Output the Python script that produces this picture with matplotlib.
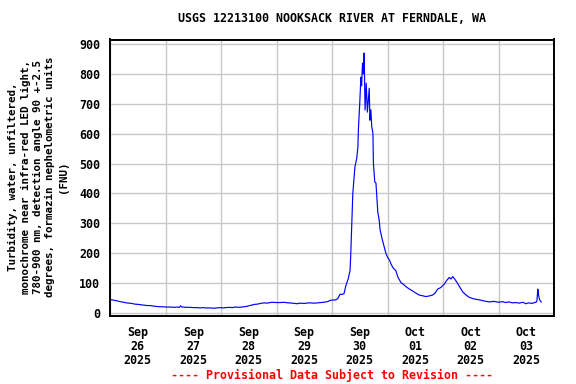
import numpy as np
import matplotlib
matplotlib.use("Agg")
import matplotlib.pyplot as plt
import matplotlib.dates as mdates

# hours since 2025-09-26 00:00 and turbidity (FNU)
hours = [0, 1, 2, 3, 4.2, 5, 6, 7, 8.5, 9.5, 10.5, 12, 12.9, 14, 15, 16, 17.2, 18, 19, 20,
         21.5, 23, 24, 26, 27.6, 29, 30, 30.5, 31, 31.8, 33, 35, 36, 37.6, 39, 40, 41.5,
         43.2, 45, 46, 47.5, 49, 50, 51.9, 53, 54, 56, 57.8, 59, 60.5, 61.5, 62.7, 64, 65,
         66.6, 68, 70, 72, 73.8, 75, 77, 79, 80.9, 82, 84, 86, 88.2, 90, 91, 92.6, 94, 95.5,
         97.6, 98.5, 99.5, 100.3, 101.2, 102.0, 103.0, 103.8, 104.1, 104.6, 105.0, 105.9,
         106.7, 107.2, 107.4, 108.0, 108.5, 108.8, 109.2, 109.4, 109.6, 109.9, 110.3, 110.8,
         111.3, 111.8, 112.1, 112.4, 112.8, 113.2, 113.7, 113.9, 114.5, 115.0, 115.8, 116.4,
         116.8, 117.6, 118.6, 119.3, 120.0, 121.0, 121.5, 122.5, 123.6, 124.5, 125.8, 127,
         128.0, 129.5, 130.8, 132, 133.7, 135, 136.6, 138, 139.5, 140.5, 141.7, 143, 144.6,
         145.5, 146.7, 147.5, 148.2, 149.2, 150.3, 151.5, 152.5, 154, 155.4, 157.5, 159.7,
         162, 164.0, 166, 168, 169.8, 171, 172.5, 174, 175.6, 177, 178.5, 179.9, 181, 182.5,
         183.5, 184.2, 184.6, 185.0, 185.3, 185.7, 186.1, 186.5]
turbidity = [45, 44, 42, 41, 38, 37, 36, 34, 33, 32, 30, 29, 28, 27, 26, 25, 25, 24, 23, 22,
             21, 21, 20, 20, 19, 20, 19, 24, 20, 20, 19, 19, 18, 18, 17, 18, 17,
             17, 16, 17, 18, 17, 18, 19, 18, 20, 19, 21, 22, 25, 27, 29, 30, 32,
             34, 33, 36, 35, 35, 36, 34, 33, 31, 33, 32, 34, 33, 34, 35, 36, 38, 43,
             44, 48, 63, 62, 65, 92, 114, 142, 194, 304, 400, 488,
             518, 555, 612, 702, 789, 760, 836, 815, 800, 870, 679, 769,
             672, 722, 752, 645, 680, 622, 602, 502, 438, 435, 338, 311,
             278, 250, 220, 200, 187, 175, 164, 150, 142, 120, 102, 95,
             88, 80, 74, 68, 60, 58, 55, 57, 60, 66, 80, 85, 97,
             108, 119, 114, 122, 112, 99, 84, 71, 60, 52, 47, 44,
             40, 37, 39, 36, 38, 35, 37, 34, 35, 33, 36, 31, 34, 32,
             35, 36, 40, 80, 62, 46, 40, 37]

tick_labels_fmt = "%b\n%d\n%Y"
title = "USGS 12213100 NOOKSACK RIVER AT FERNDALE, WA"
ylabel = ("Turbidity, water, unfiltered,\n"
          "monochrome near infra-red LED light,\n"
          "780-900 nm, detection angle 90 +-2.5\n"
          "degrees, formazin nephelometric units\n"
          "(FNU)")
footer = "---- Provisional Data Subject to Revision ----"
yticks = [0, 100, 200, 300, 400, 500, 600, 700, 800, 900]

base = np.datetime64("2025-09-26T00:00")
times = base + (np.array(hours) * 60).round().astype("timedelta64[m]")

fig = plt.figure(figsize=(5.76, 3.84), dpi=100)
ax = fig.add_axes([110/576, 1 - 316/384, 444/576, (316 - 39.5)/384])

ax.plot(times, turbidity, color="#0000ff", lw=0.85)

ax.set_xlim(np.datetime64("2025-09-26T00:00"), np.datetime64("2025-10-04T00:00"))
ax.set_ylim(-10, 915)
ax.set_yticks(yticks)

ax.xaxis.set_major_locator(mdates.HourLocator(byhour=[12]))
ax.xaxis.set_major_formatter(mdates.DateFormatter(tick_labels_fmt))
ax.xaxis.set_minor_locator(mdates.DayLocator())

font = dict(family="DejaVu Sans Mono", weight="bold")
for lab in ax.get_xticklabels() + ax.get_yticklabels():
    lab.set_fontfamily("DejaVu Sans Mono")
    lab.set_fontweight("bold")
    lab.set_fontsize(8.4)
for lab in ax.get_xticklabels():
    lab.set_linespacing(1.1)

ax.tick_params(axis="both", which="both", length=0)
ax.tick_params(axis="x", pad=7)
ax.tick_params(axis="y", pad=7)

ax.grid(True, axis="x", which="minor", color="#c8c8c8", lw=1.0)
ax.grid(True, axis="y", which="major", color="#c8c8c8", lw=1.0)
ax.set_axisbelow(True)
for s in ax.spines.values():
    s.set_linewidth(1.4)
    s.set_color("black")

fig.text(332/576, 1 - 19/384, title, ha="center", va="center", fontsize=8.4, **font)
fig.text(38/576, 1 - 177/384, ylabel, ha="center", va="center", rotation=90,
         fontsize=7.8, linespacing=1.3, multialignment="center", **font)
fig.text(332/576, 1 - 375/384, footer, ha="center", va="center", fontsize=8.4,
         color="#ff0000", **font)

fig.savefig("out.png", dpi=100)
